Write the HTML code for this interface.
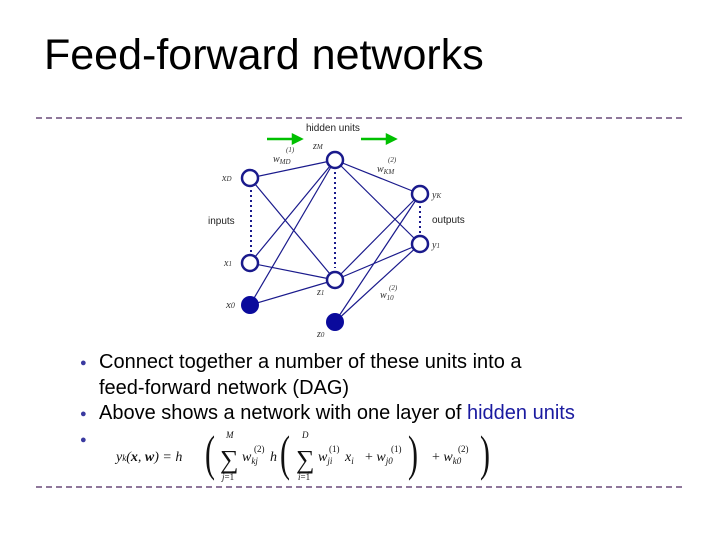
<!DOCTYPE html>
<html><head><meta charset="utf-8"><style>
body{margin:0;width:720px;height:540px;background:#fff;position:relative;overflow:hidden;font-family:"Liberation Sans",sans-serif}
.t{position:absolute;white-space:nowrap}
.b{position:absolute;left:80px;color:#3a3aa0;font-size:11px}
.l{position:absolute;left:99px;font-size:20px;color:#000;white-space:nowrap}
</style></head><body>
<div class="t" style="left:44px;top:31px;font-size:43px;color:#000">Feed-forward networks</div>
<svg width="720" height="540" style="position:absolute;left:0;top:0">
<line x1="36" y1="118" x2="684" y2="118" stroke="#6a4a7a" stroke-width="1.5" stroke-dasharray="6,4"/>
<line x1="36" y1="487" x2="684" y2="487" stroke="#6a4a7a" stroke-width="1.5" stroke-dasharray="6,4"/>
<g stroke="#00c000" stroke-width="2.5" fill="#00c000">
<line x1="267" y1="139" x2="293" y2="139"/><polygon points="293,135 301,139 293,143"/>
<line x1="361" y1="139" x2="387" y2="139"/><polygon points="387,135 395,139 387,143"/>
</g>
<g stroke="#1a1a8c" stroke-width="1.2">
<line x1="250" y1="178" x2="335" y2="160"/><line x1="250" y1="178" x2="335" y2="280"/>
<line x1="250" y1="263" x2="335" y2="160"/><line x1="250" y1="263" x2="335" y2="280"/>
<line x1="250" y1="305" x2="335" y2="160"/><line x1="250" y1="305" x2="335" y2="280"/>
<line x1="335" y1="160" x2="420" y2="194"/><line x1="335" y1="160" x2="420" y2="244"/>
<line x1="335" y1="280" x2="420" y2="194"/><line x1="335" y1="280" x2="420" y2="244"/>
<line x1="335" y1="322" x2="420" y2="194"/><line x1="335" y1="322" x2="420" y2="244"/>
</g>
<g stroke="#1a1a8c" stroke-width="2" stroke-dasharray="2,3">
<line x1="251" y1="190" x2="251" y2="252"/><line x1="335" y1="172" x2="335" y2="268"/><line x1="420" y1="206" x2="420" y2="233"/>
</g>
<g stroke="#1a1a8c" stroke-width="2.5" fill="#fff">
<circle cx="250" cy="178" r="8"/><circle cx="250" cy="263" r="8"/>
<circle cx="335" cy="160" r="8"/><circle cx="335" cy="280" r="8"/>
<circle cx="420" cy="194" r="8"/><circle cx="420" cy="244" r="8"/>
</g>
<g fill="#0a0a9c"><circle cx="250" cy="305" r="9"/><circle cx="335" cy="322" r="9"/></g>
<g font-family="Liberation Serif,serif" font-style="italic" font-size="10" fill="#333">
<text x="222" y="181">x<tspan font-size="7">D</tspan></text>
<text x="224" y="266">x<tspan font-size="7">1</tspan></text>
<text x="226" y="308" font-size="11">x<tspan font-size="8">0</tspan></text>
<text x="313" y="149">z<tspan font-size="7">M</tspan></text>
<text x="317" y="295">z<tspan font-size="7">1</tspan></text>
<text x="317" y="337">z<tspan font-size="7">0</tspan></text>
<text x="432" y="198">y<tspan font-size="7">K</tspan></text>
<text x="432" y="248">y<tspan font-size="7">1</tspan></text>
<text x="273" y="162">w<tspan font-size="7" dy="2">MD</tspan></text><text x="286" y="152" font-size="7">(1)</text>
<text x="377" y="172">w<tspan font-size="7" dy="2">KM</tspan></text><text x="388" y="162" font-size="7">(2)</text>
<text x="380" y="298">w<tspan font-size="7" dy="2">10</tspan></text><text x="389" y="290" font-size="7">(2)</text>
</g>
<g font-size="10" fill="#222">
<text x="306" y="131">hidden units</text>
<text x="208" y="224">inputs</text>
<text x="432" y="223">outputs</text>
</g>
</svg>
<div class="b" style="top:357px">●</div>
<div class="l" style="top:351px">Connect together a number of these units into a</div>
<div class="l" style="top:377px">feed-forward network (DAG)</div>
<div class="b" style="top:408px">●</div>
<div class="l" style="top:402px">Above shows a network with one layer of <span style="color:#1a1aa0">hidden units</span></div>
<div class="b" style="top:434px">●</div>
<svg width="720" height="540" style="position:absolute;left:0;top:0" font-family="Liberation Serif,serif" fill="#111">
<text x="116" y="461" font-size="14" font-style="italic">y<tspan font-size="9">k</tspan>(<tspan font-weight="bold">x</tspan>, <tspan font-weight="bold">w</tspan>) = h</text>
<text x="205" y="470" font-size="50" style="transform:scale(0.6,1);transform-origin:205px 470px">(</text>
<text x="220" y="468" font-size="26">∑</text>
<text x="226" y="438" font-size="9" font-style="italic">M</text>
<text x="222" y="480" font-size="9"><tspan font-style="italic">j</tspan>=1</text>
<text x="242" y="461" font-size="14" font-style="italic">w<tspan font-size="9" dy="3">kj</tspan></text><text x="254" y="452" font-size="9">(2)</text>
<text x="270" y="461" font-size="14" font-style="italic">h</text>
<text x="280" y="470" font-size="50" style="transform:scale(0.6,1);transform-origin:280px 470px">(</text>
<text x="296" y="468" font-size="26">∑</text>
<text x="302" y="438" font-size="9" font-style="italic">D</text>
<text x="298" y="480" font-size="9"><tspan font-style="italic">i</tspan>=1</text>
<text x="318" y="461" font-size="14" font-style="italic">w<tspan font-size="9" dy="3">ji</tspan></text><text x="329" y="452" font-size="9">(1)</text>
<text x="345" y="461" font-size="14" font-style="italic">x<tspan font-size="9" dy="3">i</tspan></text>
<text x="365" y="461" font-size="14">+ <tspan font-style="italic">w</tspan><tspan font-size="9" dy="3" font-style="italic">j0</tspan></text><text x="391" y="452" font-size="9">(1)</text>
<text x="408" y="470" font-size="50" style="transform:scale(0.6,1);transform-origin:408px 470px">)</text>
<text x="432" y="461" font-size="14">+ <tspan font-style="italic">w</tspan><tspan font-size="9" dy="3" font-style="italic">k0</tspan></text><text x="458" y="452" font-size="9">(2)</text>
<text x="480" y="470" font-size="50" style="transform:scale(0.6,1);transform-origin:480px 470px">)</text>
</svg>
</body></html>
